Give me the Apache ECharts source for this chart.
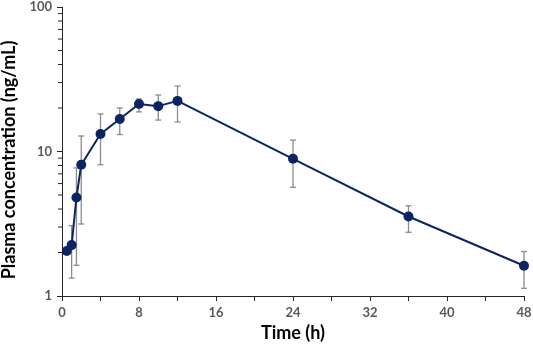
<!DOCTYPE html>
<html>
<head>
<meta charset="utf-8">
<script src="https://cdn.jsdelivr.net/npm/echarts@6/dist/echarts.min.js"></script>
<style>
  html, body { margin: 0; padding: 0; background: #fff; }
  #chart { width: 533px; height: 345px; }
</style>
</head>
<body>
<div id="chart"></div>
<script>
// time points (h) and mean concentration (ng/mL)
const times = [0.5, 1, 1.5, 2, 4, 6, 8, 10, 12, 24, 36, 48]
const means = [2.05, 2.25, 4.8, 8.1, 13.2, 16.8, 21.3, 20.6, 22.4, 8.9, 3.55, 1.62]
const lowers = [1.95, 1.33, 1.63, 3.15, 8.1, 13.1, 18.8, 16.5, 16.0, 5.65, 2.76, 1.13]
const uppers = [2.15, 3.07, 7.7, 12.8, 18.2, 20.0, 23.1, 24.6, 28.4, 12.0, 4.21, 2.03]
// minor ticks on the log axis
const minorTicks = [2, 3, 4, 5, 6, 7, 8, 9, 20, 30, 40, 50, 60, 70, 80, 90]

const NAVY = '#0c2461'
const GREY = '#8c8c8c'
const LABEL = '#595959'
const AXIS = '#262626'

const chart = echarts.init(document.getElementById('chart'))

const points = times.map((t, i) => [t, means[i]])
const bars = times.map((t, i) => [t, lowers[i], uppers[i]])

const options = {
  animation: false,
  grid: { left: 62, right: 9, top: 7, bottom: 49, outerBoundsMode: 'none' },
  xAxis: {
    type: 'value',
    min: 0,
    max: 48,
    interval: 4,
    name: 'Time (h)',
    nameLocation: 'middle',
    nameGap: 27,
    nameTextStyle: { fontFamily: 'Lato', fontWeight: 'bold', fontSize: 18, color: '#000' },
    axisLine: { lineStyle: { color: AXIS, width: 1 } },
    axisTick: { show: true, length: 5, lineStyle: { color: AXIS } },
    axisLabel: {
      color: LABEL,
      fontFamily: 'Lato',
      fontWeight: 'bold',
      fontSize: 13,
      margin: 10,
      formatter: v => (v % 8 === 0 ? String(v) : '')
    },
    splitLine: { show: false }
  },
  yAxis: {
    type: 'log',
    logBase: 10,
    min: 1,
    max: 100,
    name: 'Plasma concentration (ng/mL)',
    nameLocation: 'middle',
    nameGap: 34,
    nameTextStyle: { fontFamily: 'Lato', fontWeight: 'bold', fontSize: 18, color: '#000', padding: [0, 17, 0, 0] },
    axisLine: { show: true, lineStyle: { color: AXIS, width: 1 } },
    axisTick: { show: true, length: 5, lineStyle: { color: AXIS } },
    axisLabel: { color: LABEL, fontFamily: 'Lato', fontWeight: 'bold', fontSize: 13, margin: 10 },
    splitLine: { show: false }
  },
  series: [
    {
      // minor log ticks
      type: 'custom',
      silent: true,
      data: minorTicks.map(v => [0, v]),
      renderItem: (params, api) => {
        const p = api.coord([0, api.value(1)])
        return {
          type: 'line',
          shape: { x1: p[0] - 4, y1: p[1], x2: p[0], y2: p[1] },
          style: { stroke: AXIS, lineWidth: 1 }
        }
      },
      z: 1
    },
    {
      type: 'custom',
      silent: true,
      data: bars,
      renderItem: (params, api) => {
        const lo = api.coord([api.value(0), api.value(1)])
        const hi = api.coord([api.value(0), api.value(2)])
        const w = 3
        const style = { stroke: GREY, lineWidth: 1.3 }
        return {
          type: 'group',
          children: [
            { type: 'line', shape: { x1: lo[0], y1: lo[1], x2: hi[0], y2: hi[1] }, style },
            { type: 'line', shape: { x1: lo[0] - w, y1: lo[1], x2: lo[0] + w, y2: lo[1] }, style },
            { type: 'line', shape: { x1: hi[0] - w, y1: hi[1], x2: hi[0] + w, y2: hi[1] }, style }
          ]
        }
      },
      z: 2
    },
    {
      type: 'line',
      data: points,
      symbol: 'circle',
      symbolSize: 10,
      lineStyle: { color: NAVY, width: 2 },
      itemStyle: { color: NAVY },
      z: 3
    }
  ]
}
chart.setOption(options)
</script>
</body>
</html>
